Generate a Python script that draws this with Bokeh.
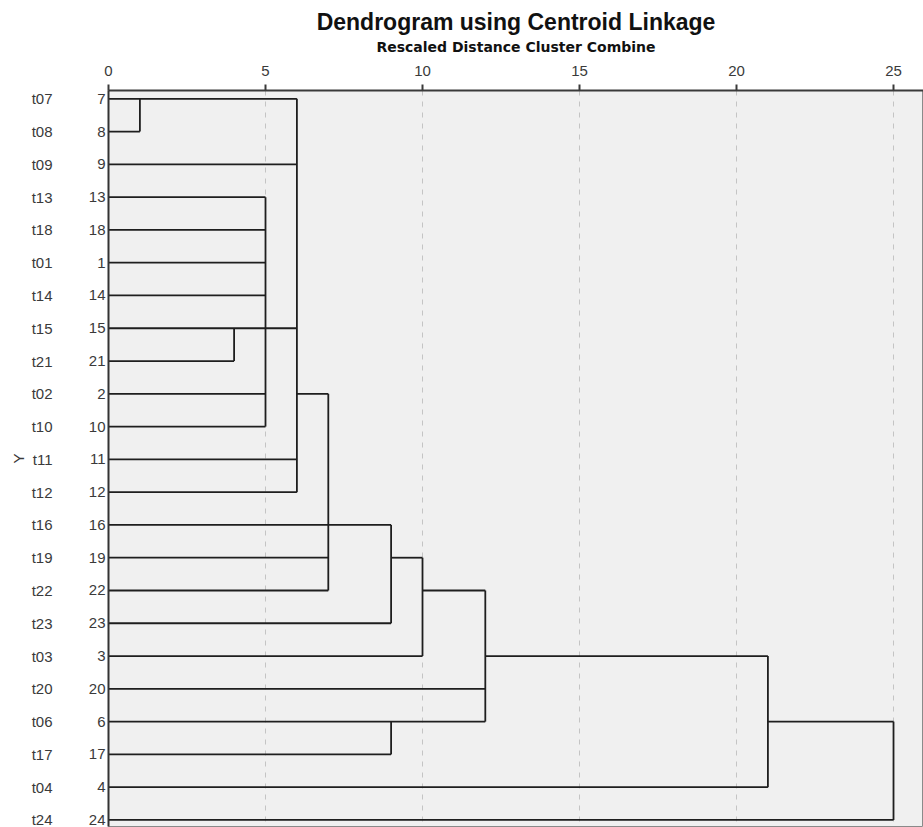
from bokeh.plotting import figure
from bokeh.models import Range1d, LinearAxis, FixedTicker, ColumnDataSource
from bokeh.embed import file_html
from bokeh.resources import INLINE

# ---- data ----
case_labels = ["t07", "t08", "t09", "t13", "t18", "t01", "t14", "t15", "t21", "t02", "t10",
               "t11", "t12", "t16", "t19", "t22", "t23", "t03", "t20", "t06", "t17", "t04", "t24"]
case_numbers = [7, 8, 9, 13, 18, 1, 14, 15, 21, 2, 10, 11, 12, 16, 19, 22, 23, 3, 20, 6, 17, 4, 24]
# rescaled distance at which each leaf's horizontal line ends
leaf_end = [6, 1, 6, 5, 5, 5, 5, 6, 4, 5, 5, 6, 6, 9, 7, 7, 9, 10, 12, 12, 9, 21, 25]
# extra horizontal links: (case on whose row it lies, from distance, to distance)
link_case = [2, 19, 22, 3, 6]
link_from = [6, 9, 10, 12, 21]
link_to = [7, 10, 12, 21, 25]
# vertical joins: (distance, top case, bottom case)
join_dist = [1, 4, 5, 6, 7, 9, 10, 12, 9, 21, 25]
join_top = [7, 15, 13, 7, 2, 16, 19, 22, 6, 3, 6]
join_bottom = [8, 21, 10, 12, 22, 23, 3, 6, 17, 4, 24]
x_ticks = [0, 5, 10, 15, 20, 25]

FONT = "Liberation Sans"
row = {c: i for i, c in enumerate(case_numbers)}
rows = list(range(len(case_numbers)))

p = figure(width=923, height=827,
           x_range=Range1d(0, 25.955), y_range=Range1d(22.2, -0.253),
           x_axis_location="above",
           output_backend="svg", toolbar_location=None,
           min_border_left=108, min_border_right=0, min_border_bottom=1, min_border_top=90,
           background_fill_color="#f0f0f0", border_fill_color="white",
           outline_line_color="#8a8a8a")

p.title.text = "Dendrogram using Centroid Linkage"
p.title.align = "center"
p.title.text_font = FONT
p.title.text_font_size = "23px"
p.title.text_font_style = "bold"
p.title.text_color = "#111111"
p.title.standoff = 2

# top axis
xa = p.xaxis[0]
xa.ticker = FixedTicker(ticks=x_ticks)
xa.axis_label = "Rescaled Distance Cluster Combine"
xa.axis_label_text_font = "DejaVu Sans"
xa.axis_label_text_font_size = "14px"
xa.axis_label_text_font_style = "bold"
xa.axis_label_text_color = "#111111"
xa.axis_label_standoff = 8
xa.major_label_text_font = FONT
xa.major_label_text_font_size = "15px"
xa.major_label_text_color = "#3a3a3a"
xa.major_label_standoff = 9
xa.major_tick_out = 6
xa.major_tick_in = 0
xa.minor_tick_line_color = None
xa.minor_tick_out = 0
xa.minor_tick_in = 0
xa.axis_line_color = "#3a3a3a"
xa.axis_line_width = 2
xa.major_tick_line_color = "#3a3a3a"
xa.major_tick_line_width = 2

p.xgrid.ticker = FixedTicker(ticks=x_ticks[1:])
p.xgrid.grid_line_color = "#c4c4c4"
p.xgrid.grid_line_dash = "5 6"
p.ygrid.grid_line_color = None

# inner left axis: case numbers
ya = p.yaxis[0]
ya.ticker = FixedTicker(ticks=rows)
ya.major_label_overrides = {i: str(c) for i, c in enumerate(case_numbers)}
ya.major_label_text_font = FONT
ya.major_label_text_font_size = "15px"
ya.major_label_text_color = "#3a3a3a"
ya.major_label_standoff = 3
ya.major_tick_line_color = None
ya.major_tick_out = 0
ya.major_tick_in = 0
ya.minor_tick_line_color = None
ya.minor_tick_out = 0
ya.minor_tick_in = 0
ya.axis_line_color = "#333333"
ya.axis_line_width = 2

# outer left axis: case labels
ya2 = LinearAxis(ticker=FixedTicker(ticks=rows),
                 major_label_overrides={i: s for i, s in enumerate(case_labels)},
                 major_label_text_font=FONT, major_label_text_font_size="15px",
                 major_label_text_color="#3a3a3a", major_label_standoff=33,
                 major_tick_line_color=None, major_tick_out=0, major_tick_in=0,
                 minor_tick_line_color=None, minor_tick_out=0, minor_tick_in=0,
                 axis_line_color=None,
                 axis_label="Y", axis_label_text_font=FONT,
                 axis_label_text_font_size="15px", axis_label_text_font_style="normal",
                 axis_label_text_color="#3a3a3a", axis_label_standoff=2)
p.add_layout(ya2, "left")

# segments
hx0, hx1, hy = [], [], []
for c, e in zip(case_numbers, leaf_end):
    hx0.append(0); hx1.append(e); hy.append(row[c])
for c, a, b in zip(link_case, link_from, link_to):
    hx0.append(a); hx1.append(b); hy.append(row[c])
p.segment(x0="x0", y0="y", x1="x1", y1="y",
          source=ColumnDataSource(dict(x0=hx0, x1=hx1, y=hy)),
          line_color="#1e1e1e", line_width=1.8)

vx, vy0, vy1 = [], [], []
for d, t, b in zip(join_dist, join_top, join_bottom):
    vx.append(d); vy0.append(row[t]); vy1.append(row[b])
p.segment(x0="x", y0="y0", x1="x", y1="y1",
          source=ColumnDataSource(dict(x=vx, y0=vy0, y1=vy1)),
          line_color="#1e1e1e", line_width=1.8)

open("out.html", "w").write(file_html(p, INLINE))
